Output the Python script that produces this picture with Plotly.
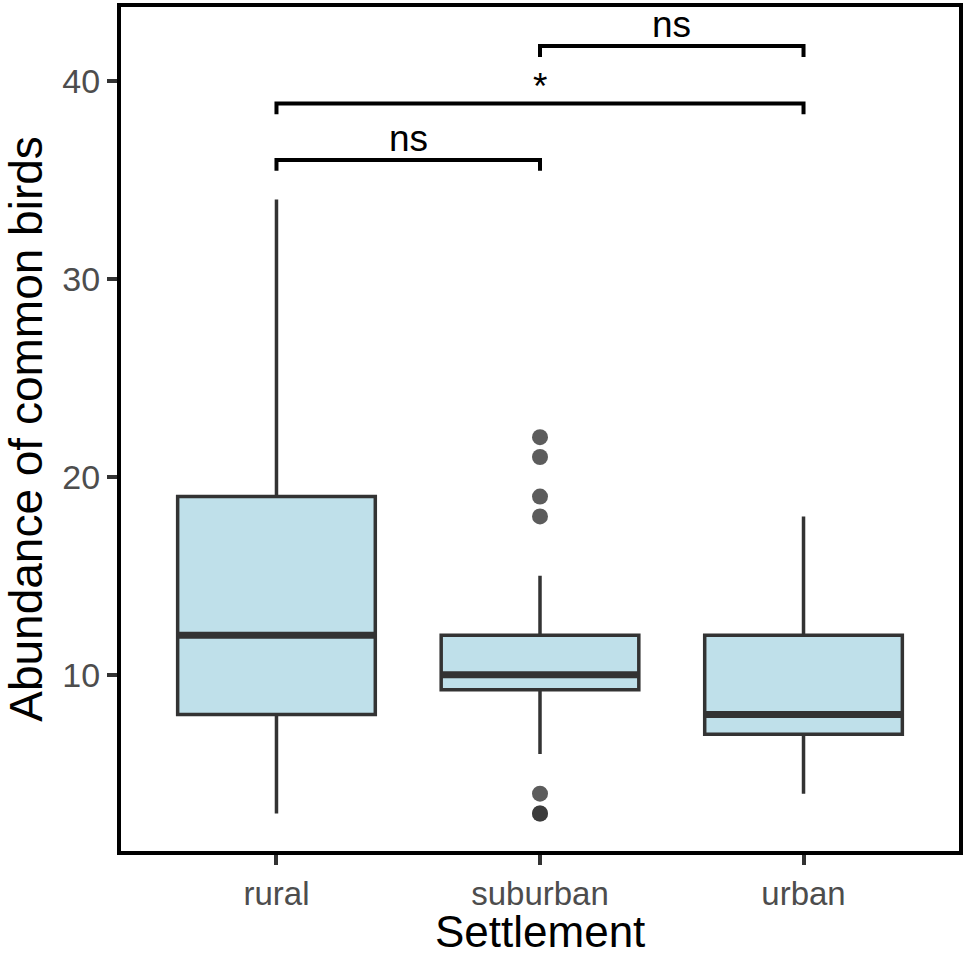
import plotly.graph_objects as go

categories = ["rural", "suburban", "urban"]
lower_whisker = [3, 6, 4]
q1 = [8, 9.25, 7]
median = [12, 10, 8]
q3 = [19, 12, 12]
upper_whisker = [34, 15, 18]

outlier_group = ["suburban", "suburban", "suburban", "suburban", "suburban", "suburban", "suburban"]
outlier_value = [22, 21, 19, 18, 4, 3, 3]

# significance brackets: (from, to, height, label)
bracket_from = ["rural", "rural", "suburban"]
bracket_to = ["suburban", "urban", "urban"]
bracket_y = [36, 38.85, 41.75]
bracket_label = ["ns", "*", "ns"]

pos = {c: i for i, c in enumerate(categories)}
box_w = 0.75
line_col = "#333333"

fig = go.Figure()

fig.add_trace(go.Box(
    x=[pos[c] for c in categories],
    q1=q1, median=median, q3=q3,
    lowerfence=lower_whisker, upperfence=upper_whisker,
    width=box_w,
    fillcolor="#BFE0EA",
    line=dict(color=line_col, width=3.5),
    whiskerwidth=0,
    boxpoints=False,
    showlegend=False,
    hoverinfo="skip",
))

# thicker median lines like ggplot
for i, c in enumerate(categories):
    fig.add_trace(go.Scatter(
        x=[pos[c] - box_w / 2, pos[c] + box_w / 2],
        y=[median[i], median[i]],
        mode="lines",
        line=dict(color=line_col, width=7),
        showlegend=False, hoverinfo="skip",
    ))

fig.add_trace(go.Scatter(
    x=[pos[g] for g in outlier_group],
    y=outlier_value,
    mode="markers",
    marker=dict(color="rgba(51,51,51,0.8)", size=16),
    showlegend=False, hoverinfo="skip",
))

tip = 0.55
for a, b, y, lab in zip(bracket_from, bracket_to, bracket_y, bracket_label):
    fig.add_trace(go.Scatter(
        x=[pos[a], pos[a], pos[b], pos[b]],
        y=[y - tip, y, y, y - tip],
        mode="lines",
        line=dict(color="black", width=4),
        showlegend=False, hoverinfo="skip",
    ))
    fig.add_annotation(
        x=(pos[a] + pos[b]) / 2, y=y, text=lab, showarrow=False,
        yanchor="bottom", yshift=-6 if lab == "*" else -1,
        font=dict(family="Liberation Sans, Arial", size=37, color="black"),
    )

# x axis title placed by hand, sitting on the bottom edge of the page
fig.add_annotation(
    x=0.5, xref="paper", y=0, yref="paper", yshift=-107,
    text="Settlement", showarrow=False, yanchor="bottom",
    font=dict(family="Liberation Sans, Arial", size=44, color="black"),
)

fig.update_layout(
    width=966, height=959,
    margin=dict(l=121, r=5, t=3, b=108),
    paper_bgcolor="white", plot_bgcolor="white",
    font=dict(family="Liberation Sans, Arial", color="black"),
    xaxis=dict(
        range=[-0.59, 2.59],
        tickvals=[pos[c] for c in categories], ticktext=categories,
        ticks="outside", ticklen=10, tickwidth=3.5, tickcolor=line_col,
        tickfont=dict(size=33, color="#4D4D4D"),
        showgrid=False, zeroline=False,
        showline=True, linecolor="black", linewidth=4, mirror=True,
    ),
    yaxis=dict(
        range=[1.105, 43.72],
        tickvals=[10, 20, 30, 40],
        ticks="outside", ticklen=10, tickwidth=3.5, tickcolor=line_col,
        tickfont=dict(size=34, color="#4D4D4D"),
        showgrid=False, zeroline=False,
        showline=True, linecolor="black", linewidth=4, mirror=True,
        title=dict(text="Abundance of common birds", font=dict(size=46, color="black"), standoff=7),
    ),
)

fig.write_html("out.html", config={"displayModeBar": False},
               post_script="document.body.style.margin='0';")
